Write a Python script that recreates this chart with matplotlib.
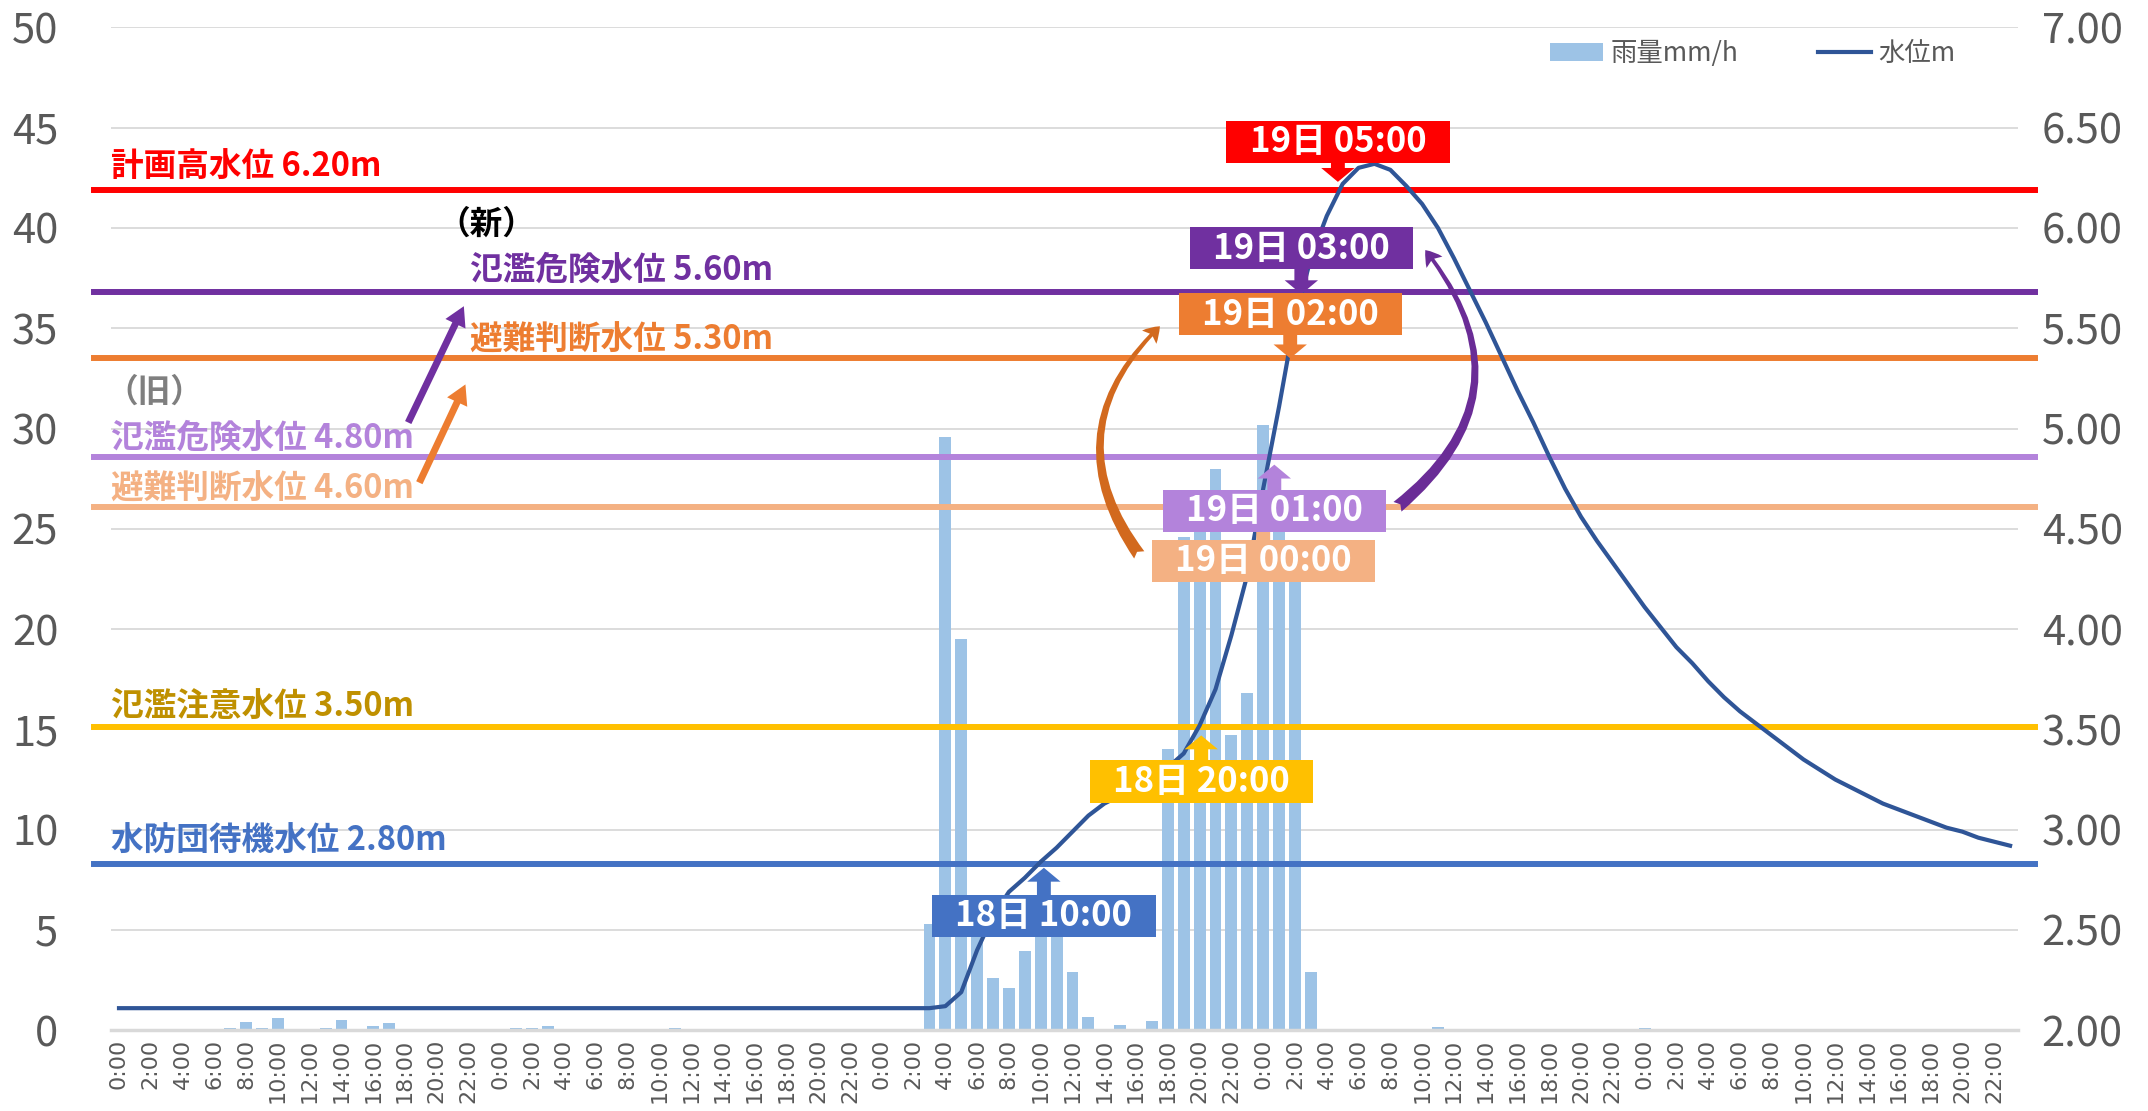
import numpy as np
import matplotlib.pyplot as plt
from matplotlib.patches import Rectangle

plt.rcParams['font.family'] = ['Noto Sans CJK JP', 'DejaVu Sans']

# hourly categories, 16日 0:00 .. 20日 23:00
hour_labels = [f'{h}:00' for day in range(5) for h in range(24)]

# rainfall mm/h, one list per day
rain_16 = [0, 0, 0, 0, 0, 0, 0, 0.1, 0.4, 0.1, 0.6, 0, 0, 0.1, 0.5, 0, 0.2, 0.35, 0, 0, 0, 0, 0, 0]
rain_17 = [0, 0.1, 0.1, 0.2, 0, 0, 0, 0, 0, 0, 0, 0.1, 0, 0, 0, 0, 0, 0, 0, 0, 0, 0, 0, 0]
rain_18 = [0, 0, 0, 5.3, 29.6, 19.5, 5.5, 2.6, 2.1, 3.95, 5.3, 5.0, 2.9, 0.65, 0, 0.25, 0, 0.45,
           14.0, 24.6, 24.9, 28.0, 14.7, 16.8]
rain_19 = [30.2, 26.0, 24.0, 2.9, 0, 0, 0, 0, 0, 0, 0, 0.15, 0, 0, 0, 0, 0, 0, 0, 0, 0, 0, 0, 0]
rain_20 = [0.1, 0, 0, 0, 0, 0, 0, 0, 0, 0, 0, 0, 0, 0, 0, 0, 0, 0, 0, 0, 0, 0, 0, 0]

# water level m, one list per day
level_16 = [2.11] * 24
level_17 = [2.11] * 24
level_18 = [2.11, 2.11, 2.11, 2.11, 2.12, 2.19, 2.40, 2.57, 2.69, 2.76, 2.84, 2.91, 2.99, 3.07,
            3.13, 3.17, 3.21, 3.26, 3.31, 3.38, 3.52, 3.70, 3.97, 4.27]
level_19 = [4.70, 5.11, 5.55, 5.85, 6.06, 6.22, 6.30, 6.32, 6.29, 6.21, 6.12, 6.00, 5.85, 5.69,
            5.53, 5.36, 5.19, 5.03, 4.86, 4.70, 4.56, 4.44, 4.33, 4.22]
level_20 = [4.11, 4.01, 3.91, 3.83, 3.74, 3.66, 3.59, 3.53, 3.47, 3.41, 3.35, 3.30, 3.25, 3.21,
            3.17, 3.13, 3.10, 3.07, 3.04, 3.01, 2.99, 2.96, 2.94, 2.92]

rain = rain_16 + rain_17 + rain_18 + rain_19 + rain_20
level = level_16 + level_17 + level_18 + level_19 + level_20

# threshold lines (drawn positions on the right axis)
thr_levels = [6.19, 5.68, 5.35, 4.86, 4.61, 3.51, 2.83]
thr_colors = ['#FF0000', '#7030A0', '#ED7D31', '#B383DB', '#F4B183', '#FFC000', '#4472C4']

x = np.arange(len(rain))

fig = plt.figure(figsize=(21.48, 11.11), dpi=100)
ax = fig.add_axes([0.0517, 0.0727, 0.8878, 0.9026])

bars = ax.bar(x, rain, width=0.75, color='#9DC3E6', zorder=2)
ax.set_xlim(-0.5, len(x) - 0.5)
ax.set_ylim(0, 50)
ax.set_yticks(range(0, 51, 5))
ax.grid(axis='y', color='#D9D9D9', lw=1.3, zorder=0)
ax.set_axisbelow(True)
for s in ['top', 'right', 'left']:
    ax.spines[s].set_visible(False)
ax.spines['bottom'].set_color('#D9D9D9')
ax.spines['bottom'].set_linewidth(2.5)
ax.set_xticks(x[::2])
ax.set_xticklabels(hour_labels[::2], rotation=90, fontsize=16, color='#595959', family='DejaVu Sans')
ax.tick_params(axis='x', length=0, pad=6)
ax.tick_params(axis='y', length=0, pad=38, labelsize=30, labelcolor='#595959')

ax2 = ax.twinx()
ax2.set_ylim(2, 7)
ticks2 = np.arange(2, 7.01, 0.5)
ax2.set_yticks(ticks2)
ax2.set_yticklabels([f'{v:.2f}' for v in ticks2])
ax2.tick_params(axis='y', length=0, pad=17, labelsize=30, labelcolor='#595959')
for s in ax2.spines.values():
    s.set_visible(False)

for lvl, c in zip(thr_levels, thr_colors):
    ax2.axhline(lvl, xmin=-0.009, xmax=1.009, color=c, lw=4.3, zorder=3, clip_on=False)

line, = ax2.plot(x, level, color='#2F5597', lw=3, zorder=4, solid_joinstyle='round')

# threshold labels on the left
lab_kw = dict(fontsize=23.5, fontweight='bold', va='center', transform=ax2.get_yaxis_transform())
ax2.text(0.0, 6.30, '計画高水位 6.20m', color='#FF0000', **lab_kw)
ax2.text(0.197, 6.02, '（新）', color='black', ha='center', **lab_kw)
ax2.text(0.188, 5.79, '氾濫危険水位 5.60m', color='#7030A0', **lab_kw)
ax2.text(0.188, 5.44, '避難判断水位 5.30m', color='#ED7D31', **lab_kw)
ax2.text(-0.003, 5.18, '（旧）', color='#7F7F7F', **lab_kw)
ax2.text(0.0, 4.95, '氾濫危険水位 4.80m', color='#B383DB', **lab_kw)
ax2.text(0.0, 4.70, '避難判断水位 4.60m', color='#F4B183', **lab_kw)
ax2.text(0.0, 3.61, '氾濫注意水位 3.50m', color='#BF9000', **lab_kw)
ax2.text(0.0, 2.94, '水防団待機水位 2.80m', color='#4472C4', **lab_kw)

# old -> new arrows
for (x0, y0), (x1, y1), c in [((18.2, 5.03), (21.7, 5.61), '#7030A0'),
                              ((18.9, 4.73), (21.8, 5.22), '#ED7D31')]:
    ax2.annotate('', xy=(x1, y1), xytext=(x0, y0),
                 arrowprops=dict(arrowstyle='simple,head_length=1.4,head_width=1.6,tail_width=0.5',
                                 mutation_scale=10, fc=c, ec='none', shrinkA=0, shrinkB=0))

# callouts: text, colour, box centre (hour, m), tip level
box_w, box_h = 14.05, 0.21
callouts = [
    ('19日 05:00', '#FF0000', 76.7, 6.43, 6.23),
    ('19日 03:00', '#7030A0', 74.4, 5.90, 5.67),
    ('19日 02:00', '#ED7D31', 73.7, 5.57, 5.35),
    ('19日 00:00', '#F4B183', 72.0, 4.34, 4.62),
    ('19日 01:00', '#B383DB', 72.7, 4.59, 4.82),
    ('18日 20:00', '#FFC000', 68.1, 3.24, 3.47),
    ('18日 10:00', '#4472C4', 58.2, 2.57, 2.81),
]
for i, (txt, c, cx, cy, tip) in enumerate(callouts):
    z = 6 + i
    edge = cy - box_h / 2 + 0.01 if tip < cy else cy + box_h / 2 - 0.01
    ax2.annotate('', xy=(cx, tip), xytext=(cx, edge), zorder=z,
                 arrowprops=dict(arrowstyle='simple,head_length=1.0,head_width=2.4,tail_width=1.0',
                                 mutation_scale=10, fc=c, ec='none', shrinkA=0, shrinkB=0))
    ax2.add_patch(Rectangle((cx - box_w / 2, cy - box_h / 2), box_w, box_h, fc=c, ec='none', zorder=z))
    ax2.text(cx, cy, txt, color='white', fontsize=25, fontweight='bold', ha='center', va='center', zorder=z)

# curved arrows from the 00:00 / 01:00 callouts
ax2.annotate('', xy=(65.5, 5.51), xytext=(64.2, 4.37), zorder=20,
             arrowprops=dict(arrowstyle='fancy,head_length=0.55,head_width=0.7,tail_width=0.45',
                             connectionstyle='arc3,rad=-0.43', mutation_scale=20,
                             fc='#D2691E', ec='none', shrinkA=0, shrinkB=0))
ax2.annotate('', xy=(82.2, 5.89), xytext=(80.45, 4.61), zorder=20,
             arrowprops=dict(arrowstyle='fancy,head_length=0.55,head_width=0.7,tail_width=0.45',
                             connectionstyle='arc3,rad=0.49', mutation_scale=20,
                             fc='#6A2C96', ec='none', shrinkA=0, shrinkB=0))

ax2.legend([bars, line], ['雨量mm/h', '水位m'], loc='center', bbox_to_anchor=(0.861, 0.974),
           ncol=2, frameon=False, fontsize=19, labelcolor='#595959',
           handlelength=2.0, handletextpad=0.3, columnspacing=3.0)

fig.savefig('out.png', dpi=100)
